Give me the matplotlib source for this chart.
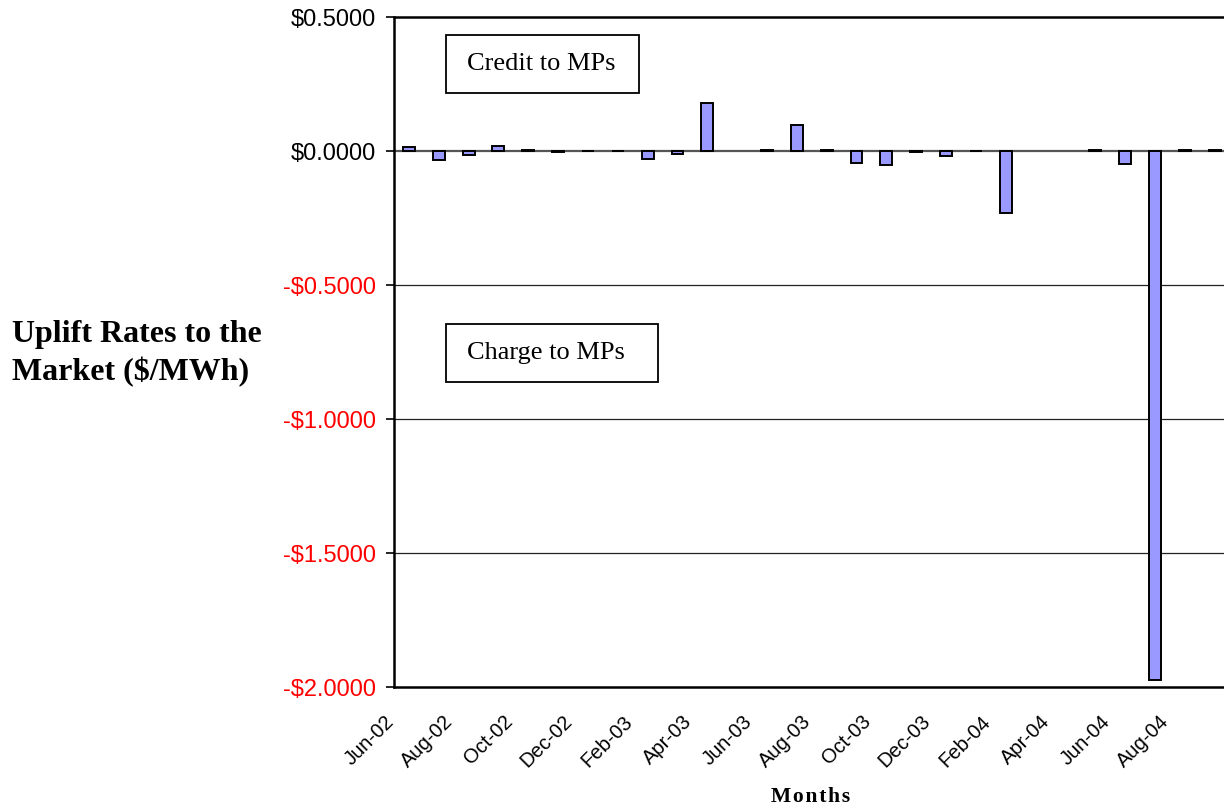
import numpy as np
import matplotlib
matplotlib.use("Agg")
import matplotlib.pyplot as plt
from matplotlib.patches import Rectangle
from matplotlib.transforms import ScaledTranslation

months = ['Jun-02', 'Jul-02', 'Aug-02', 'Sep-02', 'Oct-02', 'Nov-02', 'Dec-02',
          'Jan-03', 'Feb-03', 'Mar-03', 'Apr-03', 'May-03', 'Jun-03', 'Jul-03',
          'Aug-03', 'Sep-03', 'Oct-03', 'Nov-03', 'Dec-03', 'Jan-04', 'Feb-04',
          'Mar-04', 'Apr-04', 'May-04', 'Jun-04', 'Jul-04', 'Aug-04', 'Sep-04']
uplift = [0.015, -0.032, -0.015, 0.018, 0.002, -0.004, 0.001,
          0.001, -0.030, -0.013, 0.178, np.nan, 0.002, 0.097,
          0.003, -0.045, -0.052, -0.003, -0.020, 0.001, -0.232,
          np.nan, np.nan, 0.002, -0.048, -1.973, 0.002, 0.004]
y_ticks = [0.5, 0.0, -0.5, -1.0, -1.5, -2.0]

W, H = 1224, 809
fig = plt.figure(figsize=(W / 100, H / 100), dpi=100)

def fx(px):
    return px / W

def fy(py):
    return 1 - py / H

left, right, top, bottom = 394, 1229.5, 17, 687
ax = fig.add_axes([fx(left), fy(bottom), fx(right - left), (bottom - top) / H])

x = np.arange(len(months))
vals = np.array(uplift, dtype=float)
mask = ~np.isnan(vals)
ax.bar(x[mask], vals[mask], width=0.4, color='#9999FF', edgecolor='black',
       linewidth=1.4, zorder=3)

ax.set_xlim(-0.5, len(months) - 0.5)
ax.set_ylim(-2.0, 0.5)

# horizontal gridlines and the zero baseline
for v in [-0.5, -1.0, -1.5]:
    ax.axhline(v, color='#222222', linewidth=0.9, zorder=1)
ax.axhline(0.0, color='#555555', linewidth=1.6, zorder=2)

for s in ['top', 'bottom', 'left']:
    ax.spines[s].set_color('black')
    ax.spines[s].set_linewidth(1.8)
ax.spines['right'].set_visible(False)

ax.set_yticks(y_ticks)
ylabels = [('-$%.4f' % abs(v)) if v < 0 else ('$%.4f' % v) for v in y_ticks]
ax.set_yticklabels(ylabels, fontsize=17, family='Liberation Sans')
for lab, v in zip(ax.get_yticklabels(), y_ticks):
    lab.set_color('red' if v < 0 else 'black')
ax.tick_params(axis='y', direction='out', length=6, width=1.2, pad=7)

ax.set_xticks(x[::2])
ax.set_xticklabels(months[::2], fontsize=14.5, family='Liberation Sans',
                   rotation=45, rotation_mode='anchor', ha='right', va='top')
ax.tick_params(axis='x', length=0, pad=18)
shift = ScaledTranslation(-0.25, 0, fig.dpi_scale_trans)
for lab in ax.get_xticklabels():
    lab.set_transform(lab.get_transform() + shift)

# annotation boxes
fig.patches.append(Rectangle((fx(446), fy(93)), fx(639 - 446), (93 - 35) / H,
                             transform=fig.transFigure, fill=False,
                             edgecolor='black', linewidth=1.3))
fig.text(fx(467), fy(64), 'Credit to MPs', family='Liberation Serif',
         fontsize=19, ha='left', va='center')
fig.patches.append(Rectangle((fx(446), fy(382)), fx(658 - 446), (382 - 324) / H,
                             transform=fig.transFigure, fill=False,
                             edgecolor='black', linewidth=1.3))
fig.text(fx(467), fy(353), 'Charge to MPs', family='Liberation Serif',
         fontsize=19, ha='left', va='center')

fig.text(fx(12), fy(354), 'Uplift Rates to the\nMarket ($/MWh)',
         family='Liberation Serif', fontweight='bold', fontsize=23,
         ha='left', va='center', linespacing=1.35)
fig.text(fx(811), fy(797), 'M o n t h s'.replace(' ', '\u200a'),
         family='Liberation Serif', fontweight='bold', fontsize=15.5,
         ha='center', va='center')

fig.savefig('out.png', dpi=100)
